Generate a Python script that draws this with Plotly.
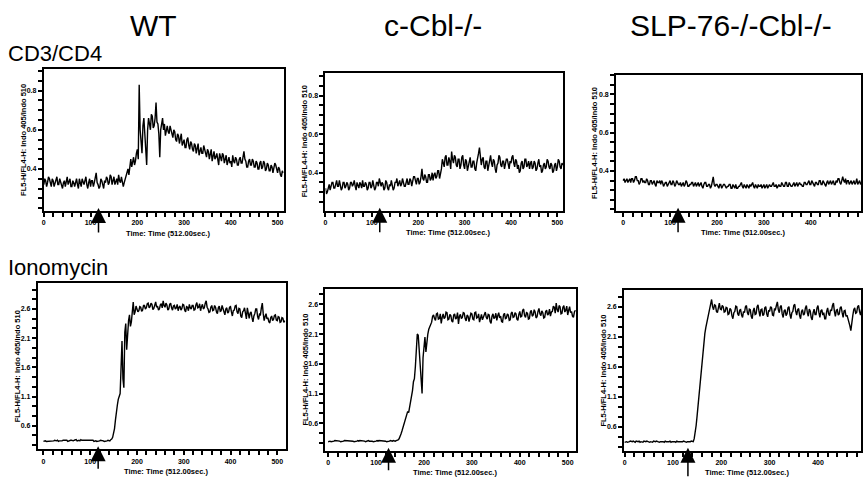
import plotly.graph_objects as go

# ---------------- data ----------------
column_titles = ["WT", "c-Cbl-/-", "SLP-76-/-Cbl-/-"]
row_titles = ["CD3/CD4", "Ionomycin"]
x_title = "Time: Time (512.00sec.)"
y_title = "FL5-H/FL4-H: Indo 405/Indo 510"
sample_step_s = 2
x_tick_vals = [0, 100, 200, 300, 400, 500]
y_tick_vals_cd3 = [0.4, 0.6, 0.8]
y_tick_vals_iono = [0.6, 1.1, 1.6, 2.1, 2.6]
stimulus_time_s = [117, 117, 117, 117, 126, 131]

wt_cd3 = [
    0.32, 0.35, 0.34, 0.31, 0.33, 0.36, 0.35, 0.32, 0.31, 0.35, 0.34, 0.31, 0.33, 0.35, 0.36, 0.32, 0.32, 0.35, 0.33, 0.31,
    0.30, 0.33, 0.34, 0.31, 0.33, 0.36, 0.32, 0.34, 0.35, 0.31, 0.31, 0.34, 0.33, 0.31, 0.34, 0.35, 0.32, 0.30, 0.35, 0.33,
    0.31, 0.35, 0.33, 0.32, 0.34, 0.36, 0.32, 0.30, 0.33, 0.35, 0.31, 0.34, 0.34, 0.31, 0.33, 0.35, 0.38, 0.33, 0.32, 0.30,
    0.31, 0.35, 0.34, 0.32, 0.30, 0.34, 0.33, 0.36, 0.35, 0.32, 0.33, 0.37, 0.36, 0.32, 0.34, 0.36, 0.32, 0.34, 0.35, 0.32,
    0.37, 0.34, 0.33, 0.36, 0.34, 0.31, 0.33, 0.35, 0.37, 0.39, 0.40, 0.37, 0.43, 0.45, 0.41, 0.44, 0.46, 0.42, 0.44, 0.48,
    0.50, 0.45, 0.83, 0.60, 0.55, 0.48, 0.62, 0.66, 0.58, 0.50, 0.42, 0.60, 0.66, 0.63, 0.60, 0.68, 0.67, 0.61, 0.62, 0.66,
    0.74, 0.64, 0.63, 0.58, 0.46, 0.60, 0.64, 0.66, 0.60, 0.63, 0.57, 0.61, 0.62, 0.59, 0.58, 0.62, 0.60, 0.57, 0.56, 0.60,
    0.59, 0.55, 0.54, 0.58, 0.57, 0.53, 0.55, 0.58, 0.52, 0.54, 0.55, 0.51, 0.51, 0.55, 0.56, 0.52, 0.50, 0.54, 0.53, 0.50,
    0.49, 0.53, 0.52, 0.48, 0.50, 0.53, 0.47, 0.50, 0.51, 0.48, 0.48, 0.52, 0.50, 0.47, 0.46, 0.50, 0.49, 0.45, 0.47, 0.50,
    0.44, 0.47, 0.49, 0.45, 0.46, 0.48, 0.45, 0.42, 0.48, 0.46, 0.44, 0.48, 0.47, 0.43, 0.45, 0.47, 0.42, 0.45, 0.46, 0.43,
    0.44, 0.41, 0.47, 0.44, 0.43, 0.46, 0.45, 0.42, 0.42, 0.45, 0.46, 0.43, 0.43, 0.46, 0.49, 0.45, 0.44, 0.41, 0.41, 0.44,
    0.45, 0.42, 0.42, 0.45, 0.44, 0.41, 0.41, 0.44, 0.43, 0.40, 0.40, 0.43, 0.44, 0.40, 0.41, 0.44, 0.43, 0.39, 0.40, 0.43,
    0.42, 0.39, 0.39, 0.42, 0.41, 0.38, 0.40, 0.43, 0.42, 0.39, 0.38, 0.41, 0.40, 0.37, 0.36, 0.39, 0.38,
]
ccbl_cd3 = [
    0.32, 0.29, 0.30, 0.33, 0.34, 0.31, 0.33, 0.35, 0.35, 0.32, 0.32, 0.35, 0.36, 0.33, 0.33, 0.36, 0.34, 0.31, 0.32, 0.35,
    0.35, 0.32, 0.33, 0.35, 0.34, 0.31, 0.32, 0.35, 0.35, 0.33, 0.34, 0.36, 0.33, 0.31, 0.35, 0.33, 0.32, 0.35, 0.34, 0.32,
    0.36, 0.33, 0.33, 0.35, 0.34, 0.31, 0.32, 0.35, 0.35, 0.32, 0.33, 0.36, 0.34, 0.31, 0.32, 0.35, 0.35, 0.33, 0.37, 0.34,
    0.33, 0.35, 0.34, 0.31, 0.32, 0.36, 0.35, 0.32, 0.31, 0.34, 0.33, 0.36, 0.34, 0.31, 0.32, 0.35, 0.35, 0.37, 0.33, 0.35,
    0.36, 0.33, 0.34, 0.37, 0.35, 0.33, 0.33, 0.36, 0.37, 0.34, 0.34, 0.37, 0.36, 0.33, 0.35, 0.38, 0.38, 0.35, 0.34, 0.37,
    0.37, 0.34, 0.35, 0.38, 0.42, 0.37, 0.36, 0.39, 0.38, 0.35, 0.35, 0.39, 0.39, 0.36, 0.37, 0.40, 0.36, 0.39, 0.40, 0.37,
    0.38, 0.41, 0.41, 0.37, 0.39, 0.42, 0.47, 0.44, 0.43, 0.48, 0.49, 0.44, 0.44, 0.48, 0.46, 0.42, 0.51, 0.47, 0.45, 0.49,
    0.48, 0.44, 0.43, 0.47, 0.47, 0.42, 0.44, 0.48, 0.49, 0.44, 0.42, 0.47, 0.46, 0.41, 0.44, 0.47, 0.48, 0.43, 0.43, 0.46,
    0.46, 0.42, 0.41, 0.45, 0.47, 0.50, 0.53, 0.46, 0.44, 0.47, 0.48, 0.43, 0.42, 0.46, 0.46, 0.41, 0.44, 0.47, 0.49, 0.45,
    0.43, 0.47, 0.46, 0.42, 0.40, 0.44, 0.45, 0.49, 0.48, 0.44, 0.43, 0.46, 0.46, 0.42, 0.44, 0.47, 0.47, 0.43, 0.42, 0.46,
    0.45, 0.48, 0.49, 0.45, 0.43, 0.47, 0.46, 0.42, 0.44, 0.40, 0.41, 0.45, 0.46, 0.42, 0.43, 0.47, 0.47, 0.43, 0.44, 0.46,
    0.42, 0.45, 0.46, 0.42, 0.43, 0.46, 0.45, 0.41, 0.42, 0.45, 0.47, 0.43, 0.44, 0.40, 0.41, 0.44, 0.45, 0.42, 0.43, 0.47,
    0.46, 0.43, 0.42, 0.45, 0.44, 0.40, 0.41, 0.44, 0.45, 0.41, 0.43, 0.47, 0.46, 0.43, 0.42, 0.45, 0.44,
]
slp_cd3 = [
    0.35, 0.36, 0.34, 0.35, 0.36, 0.34, 0.35, 0.36, 0.34, 0.36, 0.36, 0.34, 0.35, 0.37, 0.37, 0.35, 0.35, 0.33, 0.34, 0.36,
    0.36, 0.34, 0.35, 0.34, 0.34, 0.36, 0.35, 0.33, 0.33, 0.35, 0.35, 0.33, 0.34, 0.35, 0.33, 0.32, 0.35, 0.34, 0.34, 0.35,
    0.33, 0.35, 0.34, 0.32, 0.33, 0.34, 0.34, 0.32, 0.33, 0.34, 0.35, 0.33, 0.33, 0.35, 0.34, 0.32, 0.33, 0.35, 0.34, 0.33,
    0.33, 0.34, 0.32, 0.33, 0.34, 0.32, 0.33, 0.35, 0.34, 0.32, 0.32, 0.33, 0.33, 0.34, 0.34, 0.32, 0.33, 0.34, 0.32, 0.33,
    0.34, 0.32, 0.33, 0.34, 0.32, 0.31, 0.33, 0.34, 0.34, 0.32, 0.32, 0.33, 0.33, 0.31, 0.32, 0.34, 0.37, 0.33, 0.32, 0.33,
    0.33, 0.32, 0.31, 0.33, 0.33, 0.31, 0.32, 0.33, 0.33, 0.32, 0.31, 0.32, 0.32, 0.33, 0.33, 0.31, 0.31, 0.33, 0.32, 0.31,
    0.33, 0.31, 0.31, 0.32, 0.32, 0.33, 0.34, 0.32, 0.31, 0.33, 0.32, 0.31, 0.33, 0.32, 0.31, 0.33, 0.32, 0.33, 0.34, 0.32,
    0.31, 0.33, 0.32, 0.31, 0.33, 0.32, 0.32, 0.33, 0.31, 0.32, 0.33, 0.31, 0.32, 0.33, 0.31, 0.32, 0.33, 0.32, 0.32, 0.33,
    0.34, 0.32, 0.32, 0.33, 0.31, 0.32, 0.33, 0.32, 0.32, 0.34, 0.33, 0.32, 0.32, 0.34, 0.34, 0.32, 0.32, 0.34, 0.33, 0.32,
    0.32, 0.33, 0.34, 0.32, 0.33, 0.34, 0.32, 0.33, 0.34, 0.33, 0.33, 0.32, 0.32, 0.34, 0.34, 0.33, 0.33, 0.34, 0.35, 0.33,
    0.33, 0.35, 0.34, 0.33, 0.32, 0.34, 0.34, 0.33, 0.33, 0.35, 0.35, 0.33, 0.33, 0.35, 0.34, 0.33, 0.32, 0.34, 0.35, 0.33,
    0.34, 0.35, 0.33, 0.34, 0.35, 0.33, 0.33, 0.35, 0.34, 0.36, 0.36, 0.34, 0.33, 0.35, 0.37, 0.35, 0.34, 0.36, 0.33, 0.35,
    0.35, 0.33, 0.34, 0.35, 0.33, 0.34, 0.35, 0.33, 0.34, 0.36, 0.33, 0.34, 0.35, 0.33, 0.34, 0.35, 0.33,
]
wt_iono = [
    0.33, 0.34, 0.34, 0.33, 0.33, 0.34, 0.33, 0.34, 0.34, 0.33, 0.33, 0.34, 0.35, 0.34, 0.34, 0.35, 0.33, 0.34, 0.34, 0.33,
    0.34, 0.35, 0.35, 0.34, 0.34, 0.35, 0.33, 0.34, 0.34, 0.35, 0.35, 0.34, 0.34, 0.35, 0.35, 0.36, 0.34, 0.35, 0.35, 0.34,
    0.36, 0.35, 0.35, 0.34, 0.34, 0.35, 0.35, 0.34, 0.34, 0.35, 0.35, 0.34, 0.34, 0.35, 0.33, 0.34, 0.34, 0.33, 0.33, 0.34,
    0.34, 0.35, 0.35, 0.34, 0.34, 0.33, 0.33, 0.34, 0.34, 0.35, 0.35, 0.34, 0.36, 0.37, 0.40, 0.46, 0.55, 0.70, 0.88, 0.95,
    1.05, 1.12, 1.15, 1.60, 2.05, 1.40, 1.25, 2.20, 2.35, 1.90, 2.25, 2.40, 2.50, 2.30, 2.38, 2.62, 2.72, 2.50, 2.55, 2.65,
    2.60, 2.55, 2.57, 2.64, 2.63, 2.56, 2.58, 2.66, 2.66, 2.60, 2.62, 2.69, 2.70, 2.62, 2.64, 2.70, 2.68, 2.59, 2.61, 2.67,
    2.72, 2.63, 2.65, 2.58, 2.60, 2.67, 2.69, 2.62, 2.74, 2.66, 2.63, 2.70, 2.67, 2.58, 2.60, 2.68, 2.70, 2.62, 2.58, 2.65,
    2.66, 2.60, 2.62, 2.68, 2.57, 2.63, 2.65, 2.58, 2.61, 2.68, 2.67, 2.58, 2.55, 2.64, 2.63, 2.57, 2.68, 2.62, 2.60, 2.66,
    2.66, 2.58, 2.59, 2.67, 2.71, 2.62, 2.63, 2.69, 2.57, 2.64, 2.68, 2.60, 2.62, 2.70, 2.74, 2.63, 2.60, 2.54, 2.55, 2.63,
    2.66, 2.57, 2.58, 2.66, 2.63, 2.55, 2.52, 2.62, 2.65, 2.56, 2.57, 2.66, 2.61, 2.52, 2.50, 2.60, 2.62, 2.53, 2.55, 2.63,
    2.64, 2.55, 2.48, 2.57, 2.58, 2.65, 2.66, 2.55, 2.52, 2.61, 2.60, 2.48, 2.45, 2.55, 2.57, 2.62, 2.50, 2.43, 2.62, 2.54,
    2.44, 2.53, 2.55, 2.45, 2.38, 2.48, 2.52, 2.60, 2.60, 2.47, 2.42, 2.51, 2.50, 2.62, 2.70, 2.52, 2.40, 2.47, 2.52, 2.43,
    2.45, 2.38, 2.36, 2.45, 2.48, 2.40, 2.42, 2.49, 2.50, 2.41, 2.40, 2.47, 2.46, 2.37, 2.38, 2.45, 2.44, 2.37, 2.40,
]
ccbl_iono = [
    0.29, 0.30, 0.30, 0.29, 0.29, 0.30, 0.30, 0.31, 0.31, 0.30, 0.30, 0.31, 0.30, 0.29, 0.29, 0.30, 0.30, 0.31, 0.31, 0.30,
    0.30, 0.31, 0.30, 0.30, 0.31, 0.30, 0.30, 0.29, 0.29, 0.30, 0.30, 0.31, 0.30, 0.31, 0.31, 0.30, 0.30, 0.31, 0.30, 0.29,
    0.30, 0.31, 0.31, 0.30, 0.30, 0.31, 0.30, 0.29, 0.29, 0.30, 0.30, 0.31, 0.30, 0.31, 0.31, 0.30, 0.30, 0.31, 0.30, 0.30,
    0.30, 0.29, 0.29, 0.30, 0.30, 0.31, 0.30, 0.30, 0.31, 0.30, 0.30, 0.31, 0.31, 0.32, 0.34, 0.37, 0.42, 0.47, 0.52, 0.58,
    0.62, 0.68, 0.72, 0.80, 0.78, 0.88, 0.92, 1.05, 1.15, 1.30, 1.35, 1.55, 1.95, 2.10, 2.08, 1.85, 1.70, 1.30, 1.10, 1.70,
    1.95, 2.05, 1.80, 2.00, 2.10, 2.18, 2.22, 2.28, 2.30, 2.40, 2.42, 2.36, 2.33, 2.44, 2.45, 2.35, 2.36, 2.44, 2.28, 2.38,
    2.44, 2.36, 2.38, 2.47, 2.46, 2.34, 2.35, 2.43, 2.41, 2.32, 2.30, 2.42, 2.44, 2.35, 2.37, 2.46, 2.27, 2.40, 2.43, 2.36,
    2.38, 2.46, 2.45, 2.36, 2.32, 2.42, 2.40, 2.31, 2.36, 2.45, 2.44, 2.35, 2.34, 2.46, 2.47, 2.37, 2.38, 2.44, 2.30, 2.40,
    2.43, 2.34, 2.39, 2.46, 2.47, 2.38, 2.35, 2.43, 2.42, 2.31, 2.28, 2.40, 2.44, 2.36, 2.38, 2.45, 2.33, 2.41, 2.46, 2.37,
    2.40, 2.31, 2.30, 2.42, 2.45, 2.36, 2.37, 2.44, 2.42, 2.33, 2.34, 2.45, 2.47, 2.38, 2.39, 2.46, 2.44, 2.35, 2.33, 2.43,
    2.48, 2.39, 2.40, 2.50, 2.52, 2.41, 2.38, 2.46, 2.45, 2.35, 2.36, 2.47, 2.50, 2.40, 2.42, 2.51, 2.47, 2.37, 2.39, 2.48,
    2.53, 2.44, 2.41, 2.49, 2.46, 2.37, 2.38, 2.48, 2.50, 2.42, 2.44, 2.52, 2.40, 2.47, 2.48, 2.57, 2.55, 2.45, 2.62, 2.51,
    2.47, 2.58, 2.56, 2.44, 2.45, 2.55, 2.58, 2.47, 2.50, 2.57, 2.42, 2.50, 2.56, 2.46, 2.48, 2.40, 2.38, 2.47, 2.50,
]
slp_iono = [
    0.34, 0.35, 0.35, 0.34, 0.34, 0.35, 0.36, 0.35, 0.35, 0.36, 0.35, 0.34, 0.36, 0.35, 0.35, 0.36, 0.34, 0.35, 0.35, 0.34,
    0.36, 0.35, 0.35, 0.36, 0.35, 0.34, 0.34, 0.35, 0.35, 0.34, 0.36, 0.35, 0.35, 0.36, 0.35, 0.34, 0.34, 0.35, 0.35, 0.36,
    0.35, 0.34, 0.36, 0.35, 0.35, 0.34, 0.35, 0.36, 0.34, 0.35, 0.35, 0.36, 0.35, 0.34, 0.36, 0.35, 0.35, 0.34, 0.34, 0.35,
    0.35, 0.36, 0.35, 0.34, 0.34, 0.35, 0.35, 0.34, 0.35, 0.36, 0.36, 0.35, 0.40, 0.48, 0.62, 0.78, 0.95, 1.15, 1.40, 1.58,
    1.75, 1.92, 2.05, 2.15, 2.25, 2.32, 2.40, 2.48, 2.58, 2.62, 2.72, 2.60, 2.55, 2.63, 2.62, 2.52, 2.50, 2.58, 2.66, 2.56,
    2.55, 2.62, 2.60, 2.51, 2.52, 2.59, 2.58, 2.47, 2.48, 2.57, 2.55, 2.45, 2.40, 2.50, 2.52, 2.61, 2.60, 2.48, 2.45, 2.54,
    2.55, 2.46, 2.42, 2.52, 2.50, 2.60, 2.62, 2.50, 2.46, 2.56, 2.55, 2.44, 2.40, 2.53, 2.58, 2.47, 2.48, 2.60, 2.63, 2.52,
    2.44, 2.55, 2.56, 2.45, 2.47, 2.58, 2.60, 2.48, 2.43, 2.54, 2.52, 2.60, 2.58, 2.46, 2.45, 2.56, 2.55, 2.62, 2.68, 2.55,
    2.50, 2.60, 2.62, 2.48, 2.42, 2.53, 2.55, 2.45, 2.48, 2.58, 2.60, 2.47, 2.40, 2.50, 2.52, 2.62, 2.64, 2.52, 2.46, 2.55,
    2.57, 2.45, 2.40, 2.52, 2.55, 2.46, 2.48, 2.58, 2.62, 2.50, 2.44, 2.56, 2.53, 2.42, 2.38, 2.50, 2.56, 2.47, 2.47, 2.58,
    2.62, 2.50, 2.42, 2.53, 2.55, 2.46, 2.50, 2.40, 2.40, 2.52, 2.58, 2.48, 2.45, 2.55, 2.53, 2.62, 2.66, 2.52, 2.44, 2.54,
    2.55, 2.46, 2.48, 2.58, 2.60, 2.50, 2.42, 2.53, 2.54, 2.44, 2.46, 2.40, 2.35, 2.28, 2.20, 2.38, 2.45, 2.55, 2.58, 2.49,
    2.50, 2.60, 2.62, 2.52, 2.46, 2.55, 2.55, 2.48, 2.50,
]
series = [wt_cd3, ccbl_cd3, slp_cd3, wt_iono, ccbl_iono, slp_iono]

# ---------------- layout (pixel boxes: left, top, right, bottom) ----------------
W, H = 863, 485
panels = [
    dict(box=(42, 69, 283, 211), xr=(0, 513), yr=(0.185, 0.911), arrow=26),
    dict(box=(325, 72.7, 564, 210.7), xr=(0, 513), yr=(0.203, 0.919), arrow=26),
    dict(box=(617, 75, 863, 210.7), xr=(-15, 507), yr=(0.193, 0.901), arrow=26),
    dict(box=(36, 283.3, 285, 449.3), xr=(-12, 518), yr=(0.195, 3.04), arrow=24),
    dict(box=(325, 289.3, 577, 450.7), xr=(-5.6, 518), yr=(0.14, 2.852), arrow=24),
    dict(box=(625, 290, 863, 450.7), xr=(-1, 489), yr=(0.2, 2.878), arrow=30),
]
FONT = "Liberation Sans"
X_MINOR = 20
Y_MINOR_CD3 = 0.05
Y_MINOR_IONO = 0.5 / 3


def px_x(v):
    return v / W


def px_y(v):
    return 1 - v / H


def tick_grid(labels, step, lo, hi, fmt):
    """Tick positions every `step` through the labelled ticks; only labelled ones get text."""
    base = labels[0]
    k0 = int((lo - base) / step) - 1
    k1 = int((hi - base) / step) + 1
    vals, texts = [], []
    for k in range(k0, k1 + 1):
        v = base + k * step
        if lo <= v <= hi:
            vals.append(v)
            hit = [lab for lab in labels if abs(lab - v) < step * 1e-3]
            texts.append(fmt.format(hit[0]) if hit else "")
    return vals, texts


fig = go.Figure()
annotations = []
layout = {}
for i, (vals, p) in enumerate(zip(series, panels)):
    n = i + 1
    sfx = "" if n == 1 else str(n)
    l, t, r, b = p["box"]
    times = [k * sample_step_s for k in range(len(vals))]
    fig.add_trace(go.Scatter(x=times, y=vals, mode="lines",
                             line=dict(color="black", width=1.4),
                             xaxis="x" + sfx, yaxis="y" + sfx,
                             showlegend=False, hoverinfo="skip"))
    tickfont = dict(family=FONT, size=7, color="black", weight="bold")
    common = dict(ticks="outside", ticklen=4, tickwidth=1.8, tickcolor="black",
                  showline=True, linecolor="black", linewidth=2, mirror=True,
                  showgrid=False, zeroline=False, tickfont=tickfont)
    top_row = i < 3
    xv, xt = tick_grid(x_tick_vals, X_MINOR, p["xr"][0], p["xr"][1], "{:d}")
    ylabels = y_tick_vals_cd3 if top_row else y_tick_vals_iono
    yv, yt = tick_grid(ylabels, Y_MINOR_CD3 if top_row else Y_MINOR_IONO,
                       p["yr"][0], p["yr"][1], "{:.1f}")
    layout["xaxis" + sfx] = dict(
        domain=[px_x(l), px_x(r)], range=list(p["xr"]), anchor="y" + sfx,
        tickmode="array", tickvals=xv, ticktext=xt, **common)
    layout["yaxis" + sfx] = dict(
        domain=[px_y(b), px_y(t)], range=list(p["yr"]), anchor="x" + sfx,
        tickmode="array", tickvals=yv, ticktext=yt, **common)
    # axis titles
    annotations.append(dict(text=y_title, textangle=-90, xref="paper", yref="paper",
                            x=px_x(l - 21), y=px_y((t + b) / 2), showarrow=False,
                            xanchor="center", yanchor="middle",
                            font=dict(family=FONT, size=7.5, color="black", weight="bold")))
    annotations.append(dict(text=x_title, xref="paper", yref="paper",
                            x=px_x((l + r) / 2 + 4), y=px_y(b + 22), showarrow=False,
                            xanchor="center", yanchor="middle",
                            font=dict(family=FONT, size=7.5, color="black", weight="bold")))
    # stimulus arrow
    annotations.append(dict(text="", xref="x" + sfx, yref="paper",
                            x=stimulus_time_s[i], y=px_y(b - 3),
                            ax=0, ay=p["arrow"], showarrow=True,
                            arrowhead=2, arrowsize=2.0, arrowwidth=1.5,
                            arrowcolor="black"))

col_centers = [152, 433, 732]
for name, cx in zip(column_titles, col_centers):
    annotations.append(dict(text=name, xref="paper", yref="paper", x=px_x(cx), y=px_y(25),
                            showarrow=False, xanchor="center", yanchor="middle",
                            font=dict(family=FONT, size=30, color="black")))
for name, cy in zip(row_titles, [53, 267]):
    annotations.append(dict(text=name, xref="paper", yref="paper", x=px_x(4), y=px_y(cy),
                            showarrow=False, xanchor="left", yanchor="middle",
                            font=dict(family=FONT, size=22, color="black")))

fig.update_layout(width=W, height=H, margin=dict(l=0, r=0, t=0, b=0),
                  paper_bgcolor="white", plot_bgcolor="white",
                  annotations=annotations, **layout)
fig.write_html("out.html", config={"displayModeBar": False},
               post_script="document.body.style.margin='0';"
                           "document.body.style.overflow='hidden';")
